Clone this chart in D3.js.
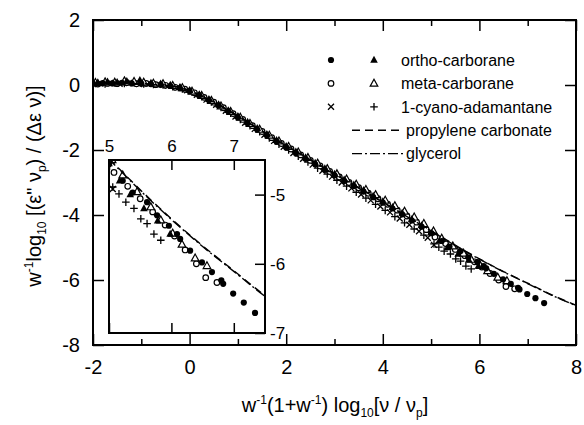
<!DOCTYPE html>
<html>
<head>
<meta charset="utf-8">
<script src="https://cdn.jsdelivr.net/npm/d3@7"></script>
<style>
  html, body { margin: 0; padding: 0; background: #fff; }
  svg { display: block; }
  text { font-family: "Liberation Sans", Arial, Helvetica, sans-serif; fill: #000; }
</style>
</head>
<body>
<svg id="chart" width="584" height="425"></svg>
<script>
// ---- data -------------------------------------------------------------
// scaled loss curves, x = w^-1(1+w^-1) log10(nu/nu_p), y = w^-1 log10[(eps'' nu_p)/(d_eps nu)]
const orthoCircle = [
  [-2.0,0.04],[-1.8,0.06],[-1.6,0.05],[-1.4,0.07],[-1.2,0.05],[-1.0,0.04],[-0.8,0.03],[-0.6,0.01],
  [-0.4,-0.03],[-0.2,-0.1],[0.0,-0.19],[0.2,-0.32],[0.4,-0.47],[0.6,-0.63],[0.8,-0.81],[1.0,-1.0],
  [1.2,-1.18],[1.4,-1.37],[1.6,-1.55],[1.8,-1.74],[2.0,-1.92],[2.2,-2.09],[2.4,-2.27],[2.6,-2.44],
  [2.8,-2.61],[3.0,-2.78],[3.2,-2.95],[3.4,-3.11],[3.6,-3.28],[3.8,-3.45],[4.0,-3.62],[4.2,-3.8],
  [4.4,-3.98],[4.6,-4.17],[4.8,-4.36],[5.0,-4.56],[5.22,-4.8],[5.38,-4.97],[5.61,-5.11],[5.77,-5.3],
  [5.96,-5.45],[6.09,-5.57],[6.14,-5.64],[6.3,-5.81],[6.49,-5.98],[6.65,-6.12],[6.8,-6.24],[6.83,-6.29],
  [6.99,-6.43],[7.16,-6.56],[7.34,-6.71]
];
const orthoTriangle = [
  [-1.9,0.08],[-1.7,0.1],[-1.5,0.09],[-1.3,0.12],[-1.03,0.15],[-0.8,0.06],[-0.6,0.04],[-0.4,0.0],
  [-0.2,-0.07],[0.0,-0.16],[0.2,-0.29],[0.4,-0.44],[0.6,-0.6],[0.8,-0.78],[1.0,-0.96],[1.2,-1.14],
  [1.4,-1.33],[1.6,-1.51],[1.8,-1.7],[2.0,-1.88],[2.2,-2.05],[2.4,-2.23],[2.6,-2.4],[2.8,-2.57],
  [3.0,-2.74],[3.2,-2.91],[3.4,-3.07],[3.6,-3.24],[3.8,-3.41],[4.0,-3.58],[4.2,-3.76],[4.4,-3.94],
  [4.6,-4.13],[4.8,-4.32],[5.0,-4.55],[5.17,-4.8],[5.34,-5.0],[5.56,-5.2],[5.78,-5.38],[5.98,-5.57]
];
const metaCircle = [
  [-1.9,0.03],[-1.7,0.05],[-1.5,0.04],[-1.3,0.07],[-1.1,0.04],[-0.9,0.05],[-0.7,0.01],[-0.5,-0.01],
  [-0.3,-0.07],[-0.1,-0.13],[0.1,-0.24],[0.3,-0.38],[0.5,-0.53],[0.7,-0.7],[0.9,-0.88],[1.1,-1.06],
  [1.3,-1.25],[1.5,-1.43],[1.7,-1.62],[1.9,-1.8],[2.1,-1.97],[2.3,-2.15],[2.5,-2.32],[2.7,-2.49],
  [2.9,-2.66],[3.1,-2.83],[3.3,-3.0],[3.5,-3.16],[3.7,-3.33],[3.9,-3.5],[4.1,-3.67],[4.3,-3.85],
  [4.5,-4.03],[4.7,-4.22],[4.9,-4.45],[5.08,-4.68],[5.3,-4.88],[5.5,-5.06],[5.7,-5.25],[5.9,-5.44],
  [6.05,-5.6],[6.22,-5.8],[6.4,-6.0],[6.55,-6.2],[6.73,-6.27]
];
const metaTriangle = [
  [-1.95,0.07],[-1.75,0.09],[-1.55,0.08],[-1.35,0.12],[-1.15,0.1],[-0.95,0.08],[-0.75,0.05],[-0.55,0.03],
  [-0.35,-0.02],[-0.15,-0.09],[0.05,-0.2],[0.25,-0.33],[0.45,-0.48],[0.65,-0.65],[0.85,-0.82],[1.05,-1.0],
  [1.25,-1.19],[1.45,-1.37],[1.65,-1.55],[1.85,-1.73],[2.05,-1.9],[2.25,-2.07],[2.45,-2.24],[2.65,-2.41],
  [2.85,-2.58],[3.05,-2.74],[3.25,-2.9],[3.45,-3.06],[3.65,-3.22],[3.85,-3.38],[4.05,-3.55],[4.25,-3.72],
  [4.45,-3.89],[4.65,-4.07],[4.85,-4.27],[5.05,-4.5],[5.22,-4.72],[5.45,-4.96],[5.67,-5.18],[5.83,-5.37],
  [6.02,-5.56],[6.17,-5.72],[6.38,-5.92],[6.57,-6.03]
];
const cyanoCross = [
  [-2.0,0.04],[-1.85,0.05],[-1.65,0.06],[-1.45,0.04],[-1.25,0.06],[-1.05,0.03],[-0.85,0.04],[-0.65,0.01],
  [-0.45,-0.02],[-0.25,-0.07],[-0.05,-0.16],[0.15,-0.3],[0.35,-0.45],[0.55,-0.61],[0.75,-0.79],[0.95,-0.97],
  [1.15,-1.16],[1.35,-1.35],[1.55,-1.53],[1.75,-1.72],[1.95,-1.9],[2.15,-2.09],[2.35,-2.27],[2.55,-2.45],
  [2.75,-2.64],[2.95,-2.82],[3.15,-3.0],[3.35,-3.18],[3.55,-3.37],[3.75,-3.55],[3.95,-3.74],[4.15,-3.92],
  [4.35,-4.11],[4.55,-4.3],[4.75,-4.5],[4.93,-4.7],[5.06,-4.92]
];
const cyanoPlus = [
  [-1.95,0.05],[-1.75,0.03],[-1.55,0.06],[-1.35,0.05],[-1.15,0.07],[-0.95,0.03],[-0.75,0.02],[-0.55,0.0],
  [-0.35,-0.05],[-0.15,-0.12],[0.05,-0.22],[0.25,-0.36],[0.45,-0.52],[0.65,-0.69],[0.85,-0.87],[1.05,-1.06],
  [1.25,-1.25],[1.45,-1.44],[1.65,-1.63],[1.85,-1.82],[2.05,-2.0],[2.25,-2.19],[2.45,-2.37],[2.65,-2.56],
  [2.85,-2.74],[3.05,-2.93],[3.25,-3.11],[3.45,-3.3],[3.65,-3.48],[3.85,-3.67],[4.05,-3.86],[4.25,-4.05],
  [4.45,-4.24],[4.65,-4.43],[4.85,-4.62],[5.06,-4.89],[5.16,-4.99],[5.27,-5.11],[5.4,-5.2],[5.51,-5.35],
  [5.61,-5.42],[5.72,-5.57],[5.83,-5.66]
];
const pcLine = [
  [-2,0.04],[-1.5,0.05],[-1,0.04],[-0.5,0.0],[-0.25,-0.06],[0,-0.17],[0.25,-0.33],[0.5,-0.52],
  [0.75,-0.73],[1,-0.95],[1.5,-1.41],[2,-1.86],[2.5,-2.3],[3,-2.73],[3.5,-3.16],[4,-3.6],
  [4.5,-4.04],[5,-4.48],[5.5,-4.93],[6,-5.35],[6.5,-5.74],[7,-6.1],[7.5,-6.46],[8,-6.78]
];
const glycerolLine = [
  [-2,0.03],[-1.5,0.04],[-1,0.03],[-0.5,-0.01],[-0.25,-0.07],[0,-0.18],[0.25,-0.34],[0.5,-0.53],
  [0.75,-0.74],[1,-0.96],[1.5,-1.42],[2,-1.87],[2.5,-2.31],[3,-2.74],[3.5,-3.17],[4,-3.61],
  [4.5,-4.05],[5,-4.49],[5.5,-4.94],[6,-5.36],[6.5,-5.75],[7,-6.11],[7.5,-6.47],[8,-6.79]
];

// ticks
const xMajorTicks = [-2, 0, 2, 4, 6, 8];
const xMinorTicks = [-1, 1, 3, 5, 7];
const yMajorTicks = [-8, -6, -4, -2, 0, 2];
const xInsetTicks = [5, 6, 7];
const yInsetTicks = [-7, -6, -5];

// legend
const legendRows = [
  { label: "ortho-carborane", marks: ["circleFilled", "triFilled"] },
  { label: "meta-carborane", marks: ["circleOpen", "triOpen"] },
  { label: "1-cyano-adamantane", marks: ["cross", "plus"] },
  { label: "propylene carbonate", line: "pc" },
  { label: "glycerol", line: "gly" }
];

// ---- layout -----------------------------------------------------------
const svg = d3.select("#chart");
svg.append("rect").attr("width", 584).attr("height", 425).attr("fill", "#fff");

const x = d3.scaleLinear().domain([-2, 8]).range([93, 576]);
const y = d3.scaleLinear().domain([-8, 2]).range([345, 20]);
const xi = d3.scaleLinear().domain([5, 7.5]).range([109, 265]);
const yi = d3.scaleLinear().domain([-7, -4.5]).range([333, 160]);

const dashPC = "8,5";
const dashGly = "10,3,2,3";
const fmt = d => String(d);

// marker painter
function drawMarker(g, type, px, py) {
  switch (type) {
    case "circleFilled":
      g.append("circle").attr("cx", px).attr("cy", py).attr("r", 3.1).attr("fill", "#000");
      break;
    case "circleOpen":
      g.append("circle").attr("cx", px).attr("cy", py).attr("r", 2.8)
        .attr("fill", "#fff").attr("stroke", "#000").attr("stroke-width", 1.2);
      break;
    case "triFilled":
      g.append("path").attr("d", `M${px},${py - 4.2}L${px + 3.8},${py + 2.7}L${px - 3.8},${py + 2.7}Z`)
        .attr("fill", "#000");
      break;
    case "triOpen":
      g.append("path").attr("d", `M${px},${py - 4.2}L${px + 3.8},${py + 2.7}L${px - 3.8},${py + 2.7}Z`)
        .attr("fill", "#fff").attr("stroke", "#000").attr("stroke-width", 1.2);
      break;
    case "cross":
      g.append("path").attr("d", `M${px - 3},${py - 3}L${px + 3},${py + 3}M${px - 3},${py + 3}L${px + 3},${py - 3}`)
        .attr("stroke", "#000").attr("stroke-width", 1.3).attr("fill", "none");
      break;
    case "plus":
      g.append("path").attr("d", `M${px - 3.8},${py}L${px + 3.8},${py}M${px},${py - 3.8}L${px},${py + 3.8}`)
        .attr("stroke", "#000").attr("stroke-width", 1.3).attr("fill", "none");
      break;
  }
}

const seriesList = [
  { data: cyanoCross, mark: "cross" },
  { data: cyanoPlus, mark: "plus" },
  { data: metaCircle, mark: "circleOpen" },
  { data: metaTriangle, mark: "triOpen" },
  { data: orthoTriangle, mark: "triFilled" },
  { data: orthoCircle, mark: "circleFilled" }
];

function drawPanel(g, sx, sy) {
  const line = d3.line().x(d => sx(d[0])).y(d => sy(d[1])).curve(d3.curveCatmullRom);
  const sym = g.append("g");
  seriesList.forEach(s => s.data.forEach(d => drawMarker(sym, s.mark, sx(d[0]), sy(d[1]))));
  g.append("path").datum(pcLine).attr("d", line).attr("fill", "none")
    .attr("stroke", "#000").attr("stroke-width", 1.4).attr("stroke-dasharray", dashPC);
  g.append("path").datum(glycerolLine).attr("d", line).attr("fill", "none")
    .attr("stroke", "#000").attr("stroke-width", 1.4).attr("stroke-dasharray", dashGly);
}

// ---- main panel -------------------------------------------------------
svg.append("clipPath").attr("id", "clipMain")
  .append("rect").attr("x", x(-2)).attr("y", y(2)).attr("width", x(8) - x(-2)).attr("height", y(-8) - y(2));
const mainG = svg.append("g").attr("clip-path", "url(#clipMain)");
drawPanel(mainG, x, y);

// axes (ticks pointing inward)
function styleAxis(sel, size) {
  sel.select(".domain").remove();
  sel.selectAll(".tick line").attr("stroke", "#000").attr("stroke-width", 1.5);
  sel.selectAll("text").style("font-family", '"Liberation Sans", Arial, sans-serif')
    .style("font-size", size + "px").attr("fill", "#000");
}
svg.append("g").attr("transform", `translate(0,${y(-8)})`)
  .call(d3.axisBottom(x).tickValues(xMajorTicks).tickSize(-11).tickPadding(15).tickFormat(fmt))
  .call(s => styleAxis(s, 20));
svg.append("g").attr("transform", `translate(0,${y(-8)})`)
  .call(d3.axisBottom(x).tickValues(xMinorTicks).tickSize(-6).tickFormat(""))
  .call(s => styleAxis(s, 20));
svg.append("g").attr("transform", `translate(0,${y(2)})`)
  .call(d3.axisTop(x).tickValues(xMajorTicks).tickSize(-11).tickFormat(""))
  .call(s => styleAxis(s, 20));
svg.append("g").attr("transform", `translate(0,${y(2)})`)
  .call(d3.axisTop(x).tickValues(xMinorTicks).tickSize(-6).tickFormat(""))
  .call(s => styleAxis(s, 20));
svg.append("g").attr("transform", `translate(${x(-2)},0)`)
  .call(d3.axisLeft(y).tickValues(yMajorTicks).tickSize(-11).tickPadding(13).tickFormat(fmt))
  .call(s => styleAxis(s, 20));
svg.append("g").attr("transform", `translate(${x(8)},0)`)
  .call(d3.axisRight(y).tickValues(yMajorTicks).tickSize(-11).tickFormat(""))
  .call(s => styleAxis(s, 20));

svg.append("rect").attr("x", x(-2)).attr("y", y(2)).attr("width", x(8) - x(-2)).attr("height", y(-8) - y(2))
  .attr("fill", "none").attr("stroke", "#000").attr("stroke-width", 2);

// ---- inset panel ------------------------------------------------------
svg.append("rect").attr("x", xi(5)).attr("y", yi(-4.5)).attr("width", xi(7.5) - xi(5)).attr("height", yi(-7) - yi(-4.5))
  .attr("fill", "#fff");
svg.append("clipPath").attr("id", "clipInset")
  .append("rect").attr("x", xi(5)).attr("y", yi(-4.5)).attr("width", xi(7.5) - xi(5)).attr("height", yi(-7) - yi(-4.5));
const insetG = svg.append("g").attr("clip-path", "url(#clipInset)");
drawPanel(insetG, xi, yi);

svg.append("g").attr("transform", `translate(0,${yi(-4.5)})`)
  .call(d3.axisTop(xi).tickValues(xInsetTicks).tickSize(-10).tickPadding(8).tickFormat(fmt))
  .call(s => styleAxis(s, 17));
svg.append("g").attr("transform", `translate(0,${yi(-7)})`)
  .call(d3.axisBottom(xi).tickValues(xInsetTicks).tickSize(-10).tickFormat(""))
  .call(s => styleAxis(s, 17));
svg.append("g").attr("transform", `translate(${xi(7.5)},0)`)
  .call(d3.axisRight(yi).tickValues(yInsetTicks).tickSize(-10).tickPadding(5).tickFormat(fmt))
  .call(s => styleAxis(s, 17));
svg.append("rect").attr("x", xi(5)).attr("y", yi(-4.5)).attr("width", xi(7.5) - xi(5)).attr("height", yi(-7) - yi(-4.5))
  .attr("fill", "none").attr("stroke", "#000").attr("stroke-width", 2);

// ---- legend -----------------------------------------------------------
const leg = svg.append("g");
legendRows.forEach((row, i) => {
  const ly = 60 + i * 23.4;
  if (row.marks) {
    drawMarker(leg, row.marks[0], 331, ly);
    drawMarker(leg, row.marks[1], 374, ly);
    leg.append("text").attr("x", 401).attr("y", ly).attr("dy", "0.36em")
      .style("font-size", "16px").text(row.label);
  } else {
    leg.append("line").attr("x1", 352).attr("x2", 403).attr("y1", ly).attr("y2", ly)
      .attr("stroke", "#000").attr("stroke-width", 1.4)
      .attr("stroke-dasharray", row.line === "pc" ? dashPC : dashGly);
    leg.append("text").attr("x", 406).attr("y", ly).attr("dy", "0.36em")
      .style("font-size", "16px").text(row.label);
  }
});

// ---- axis titles ------------------------------------------------------
const xt = svg.append("text").attr("x", 335).attr("y", 412).attr("text-anchor", "middle")
  .style("font-size", "20px");
xt.append("tspan").text("w");
xt.append("tspan").attr("dy", -8).style("font-size", "12px").text("-1");
xt.append("tspan").attr("dy", 8).text("(1+w");
xt.append("tspan").attr("dy", -8).style("font-size", "12px").text("-1");
xt.append("tspan").attr("dy", 8).text(") log");
xt.append("tspan").attr("dy", 5).style("font-size", "12px").text("10");
xt.append("tspan").attr("dy", -5).text("[ν / ν");
xt.append("tspan").attr("dy", 5).style("font-size", "12px").text("p");
xt.append("tspan").attr("dy", -5).text("]");

const yt = svg.append("text").attr("transform", "translate(41,186) rotate(-90)")
  .attr("text-anchor", "middle").style("font-size", "20px");
yt.append("tspan").text("w");
yt.append("tspan").attr("dy", -8).style("font-size", "12px").text("-1");
yt.append("tspan").attr("dy", 8).text("log");
yt.append("tspan").attr("dy", 5).style("font-size", "12px").text("10");
yt.append("tspan").attr("dy", -5).text(" [(ε\" ν");
yt.append("tspan").attr("dy", 5).style("font-size", "12px").text("p");
yt.append("tspan").attr("dy", -5).text(") / (Δε ν)]");
</script>
</body>
</html>
